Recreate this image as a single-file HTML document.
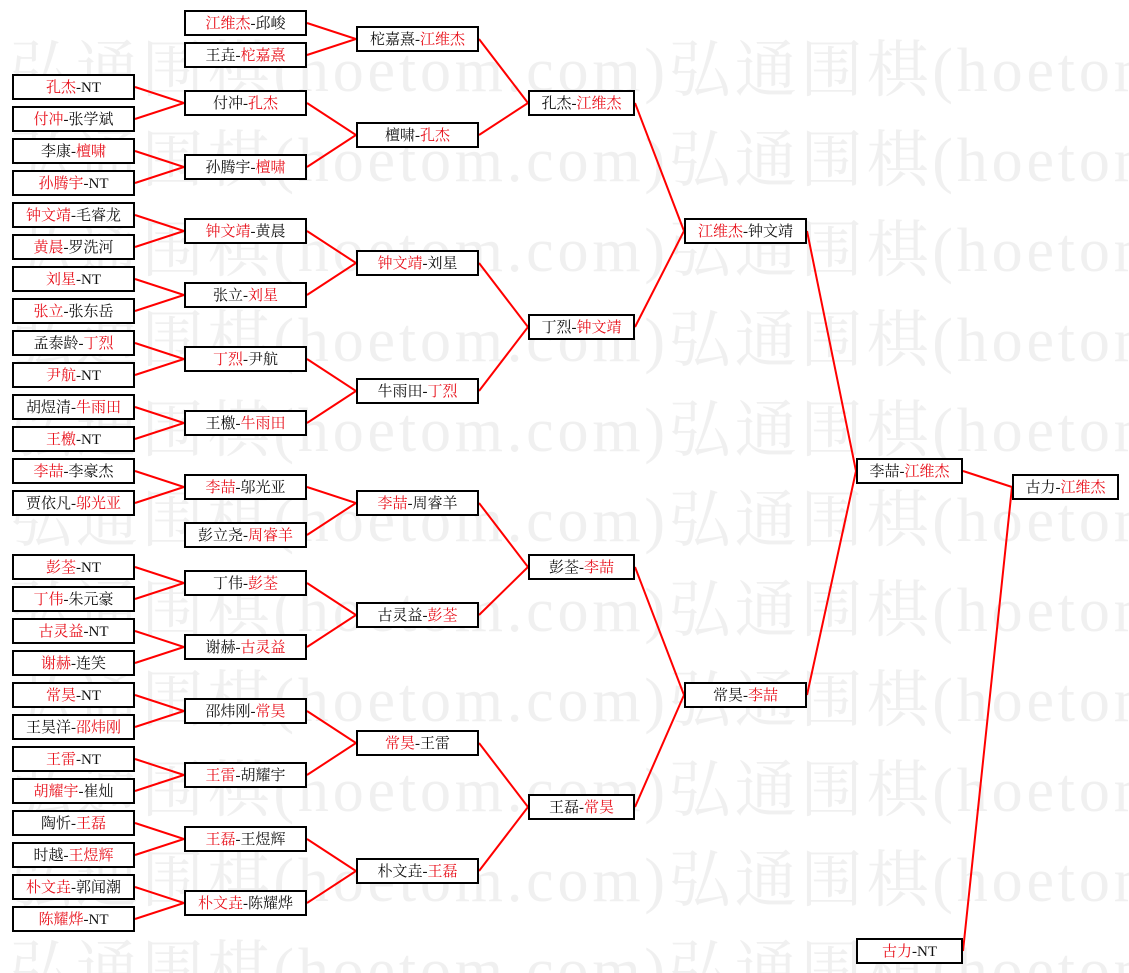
<!DOCTYPE html>
<html><head><meta charset="utf-8">
<style>
html,body{margin:0;padding:0;background:#fff;}
body{width:1129px;height:973px;overflow:hidden;}
svg{display:block;}
.wm{font-family:"Liberation Serif","Noto Serif CJK SC",serif;font-size:62px;fill:#f0f0f0;}
.t{font-family:"Liberation Serif","Noto Serif CJK SC",serif;font-size:15px;fill:#111;}
.r{fill:#e8121c;}
</style></head>
<body>
<svg id="s" width="1129" height="973" viewBox="0 0 1129 973" xmlns="http://www.w3.org/2000/svg">
<g id="wm">
<text class="wm" x="10" y="91" textLength="1314" lengthAdjust="spacing">弘通围棋(hoetom.com)弘通围棋(hoetom.com)</text>
<text class="wm" x="10" y="181" textLength="1314" lengthAdjust="spacing">弘通围棋(hoetom.com)弘通围棋(hoetom.com)</text>
<text class="wm" x="10" y="271" textLength="1314" lengthAdjust="spacing">弘通围棋(hoetom.com)弘通围棋(hoetom.com)</text>
<text class="wm" x="10" y="361" textLength="1314" lengthAdjust="spacing">弘通围棋(hoetom.com)弘通围棋(hoetom.com)</text>
<text class="wm" x="10" y="451" textLength="1314" lengthAdjust="spacing">弘通围棋(hoetom.com)弘通围棋(hoetom.com)</text>
<text class="wm" x="10" y="541" textLength="1314" lengthAdjust="spacing">弘通围棋(hoetom.com)弘通围棋(hoetom.com)</text>
<text class="wm" x="10" y="631" textLength="1314" lengthAdjust="spacing">弘通围棋(hoetom.com)弘通围棋(hoetom.com)</text>
<text class="wm" x="10" y="721" textLength="1314" lengthAdjust="spacing">弘通围棋(hoetom.com)弘通围棋(hoetom.com)</text>
<text class="wm" x="10" y="811" textLength="1314" lengthAdjust="spacing">弘通围棋(hoetom.com)弘通围棋(hoetom.com)</text>
<text class="wm" x="10" y="901" textLength="1314" lengthAdjust="spacing">弘通围棋(hoetom.com)弘通围棋(hoetom.com)</text>
<text class="wm" x="10" y="991" textLength="1314" lengthAdjust="spacing">弘通围棋(hoetom.com)弘通围棋(hoetom.com)</text>
</g>
<g stroke="#f00" stroke-width="2" fill="none">
<!-- col1 -> col2 -->
<polyline points="135,87 184,103 135,119"/>
<polyline points="135,151 184,167 135,183"/>
<polyline points="135,215 184,231 135,247"/>
<polyline points="135,279 184,295 135,311"/>
<polyline points="135,343 184,359 135,375"/>
<polyline points="135,407 184,423 135,439"/>
<polyline points="135,471 184,487 135,503"/>
<polyline points="135,567 184,583 135,599"/>
<polyline points="135,631 184,647 135,663"/>
<polyline points="135,695 184,711 135,727"/>
<polyline points="135,759 184,775 135,791"/>
<polyline points="135,823 184,839 135,855"/>
<polyline points="135,887 184,903 135,919"/>
<!-- col2 -> col3 -->
<polyline points="307,23 356,39 307,55"/>
<polyline points="307,103 356,135 307,167"/>
<polyline points="307,231 356,263 307,295"/>
<polyline points="307,359 356,391 307,423"/>
<polyline points="307,487 356,503 307,535"/>
<polyline points="307,583 356,615 307,647"/>
<polyline points="307,711 356,743 307,775"/>
<polyline points="307,839 356,871 307,903"/>
<!-- col3 -> col4 -->
<polyline points="479,39 528,103 479,135"/>
<polyline points="479,263 528,327 479,391"/>
<polyline points="479,503 528,567 479,615"/>
<polyline points="479,743 528,807 479,871"/>
<!-- col4 -> col5 -->
<polyline points="635,103 684,231 635,327"/>
<polyline points="635,567 684,695 635,807"/>
<!-- col5 -> col6 -->
<polyline points="807,231 856,471 807,695"/>
<!-- col6 -> col7 -->
<polyline points="963,471 1012,487 963,951"/>
</g>
<g id="boxes"></g>
</svg>
<script>
var data=[
[12,123,87,'孔杰|r','-NT'],
[12,123,119,'付冲|r','-张学斌'],
[12,123,151,'李康-','檀啸|r'],
[12,123,183,'孙腾宇|r','-NT'],
[12,123,215,'钟文靖|r','-毛睿龙'],
[12,123,247,'黄晨|r','-罗洗河'],
[12,123,279,'刘星|r','-NT'],
[12,123,311,'张立|r','-张东岳'],
[12,123,343,'孟泰龄-','丁烈|r'],
[12,123,375,'尹航|r','-NT'],
[12,123,407,'胡煜清-','牛雨田|r'],
[12,123,439,'王檄|r','-NT'],
[12,123,471,'李喆|r','-李豪杰'],
[12,123,503,'贾依凡-','邬光亚|r'],
[12,123,567,'彭荃|r','-NT'],
[12,123,599,'丁伟|r','-朱元豪'],
[12,123,631,'古灵益|r','-NT'],
[12,123,663,'谢赫|r','-连笑'],
[12,123,695,'常昊|r','-NT'],
[12,123,727,'王昊洋-','邵炜刚|r'],
[12,123,759,'王雷|r','-NT'],
[12,123,791,'胡耀宇|r','-崔灿'],
[12,123,823,'陶忻-','王磊|r'],
[12,123,855,'时越-','王煜辉|r'],
[12,123,887,'朴文垚|r','-郭闻潮'],
[12,123,919,'陈耀烨|r','-NT'],
[184,123,23,'江维杰|r','-邱峻'],
[184,123,55,'王垚-','柁嘉熹|r'],
[184,123,103,'付冲-','孔杰|r'],
[184,123,167,'孙腾宇-','檀啸|r'],
[184,123,231,'钟文靖|r','-黄晨'],
[184,123,295,'张立-','刘星|r'],
[184,123,359,'丁烈|r','-尹航'],
[184,123,423,'王檄-','牛雨田|r'],
[184,123,487,'李喆|r','-邬光亚'],
[184,123,535,'彭立尧-','周睿羊|r'],
[184,123,583,'丁伟-','彭荃|r'],
[184,123,647,'谢赫-','古灵益|r'],
[184,123,711,'邵炜刚-','常昊|r'],
[184,123,775,'王雷|r','-胡耀宇'],
[184,123,839,'王磊|r','-王煜辉'],
[184,123,903,'朴文垚|r','-陈耀烨'],
[356,123,39,'柁嘉熹-','江维杰|r'],
[356,123,135,'檀啸-','孔杰|r'],
[356,123,263,'钟文靖|r','-刘星'],
[356,123,391,'牛雨田-','丁烈|r'],
[356,123,503,'李喆|r','-周睿羊'],
[356,123,615,'古灵益-','彭荃|r'],
[356,123,743,'常昊|r','-王雷'],
[356,123,871,'朴文垚-','王磊|r'],
[528,107,103,'孔杰-','江维杰|r'],
[528,107,327,'丁烈-','钟文靖|r'],
[528,107,567,'彭荃-','李喆|r'],
[528,107,807,'王磊-','常昊|r'],
[684,123,231,'江维杰|r','-钟文靖'],
[684,123,695,'常昊-','李喆|r'],
[856,107,471,'李喆-','江维杰|r'],
[856,107,951,'古力|r','-NT'],
[1012,107,487,'古力-','江维杰|r']
];
var NS='http://www.w3.org/2000/svg';
var g=document.getElementById('boxes');
data.forEach(function(d){
  var x=d[0],w=d[1],c=d[2];
  var r=document.createElementNS(NS,'rect');
  r.setAttribute('x',x+1);r.setAttribute('y',c-12);
  r.setAttribute('width',w-2);r.setAttribute('height',24);
  r.setAttribute('fill','#fff');r.setAttribute('stroke','#000');r.setAttribute('stroke-width','2');
  g.appendChild(r);
  var t=document.createElementNS(NS,'text');
  t.setAttribute('class','t');t.setAttribute('x',x+w/2);t.setAttribute('y',c+5);
  t.setAttribute('text-anchor','middle');
  [d[3],d[4]].forEach(function(p){
    var s=document.createElementNS(NS,'tspan');
    var parts=p.split('|');
    s.textContent=parts[0];
    if(parts[1]==='r') s.setAttribute('class','r');
    t.appendChild(s);
  });
  g.appendChild(t);
});
</script>
</body></html>
